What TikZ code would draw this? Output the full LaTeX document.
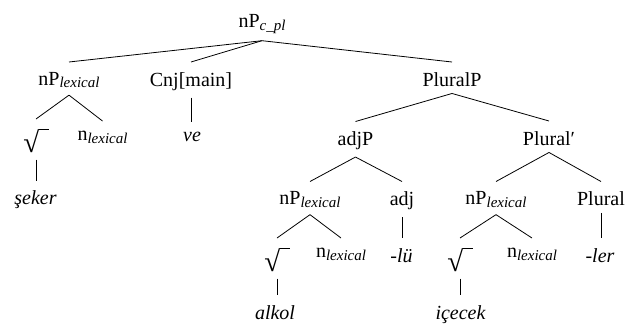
\documentclass[tikz,border=0pt]{standalone}
\usepackage{fontspec}
\setmainfont{Liberation Serif}
% italic subscript used on category labels
\newcommand{\lsub}[1]{\raisebox{-2.5bp}{\fontsize{15bp}{15bp}\selectfont\itshape #1}}
% empty root symbol: radical sign with a short bar
\newcommand{\rootsym}{{\fontsize{29bp}{29bp}\selectfont
  \setbox0\hbox{√}\copy0\kern-0.7bp\rule[\dimexpr\ht0-0.8bp\relax]{10bp}{0.8bp}}}

\begin{document}
\begin{tikzpicture}[x=1bp,y=-1bp,
  lbl/.style={inner sep=0pt, anchor=north, font=\fontsize{20bp}{24bp}\selectfont},
  word/.style={lbl, font=\fontsize{20bp}{24bp}\selectfont\itshape},
  branch/.style={line width=0.8bp, black}]
\useasboundingbox (0,0) rectangle (629,327);

% level 0
\node[lbl] (root) at (262,14.5) {nP\lsub{c\_pl}};
% level 1
\node[lbl] (npA) at (69,72) {nP\lsub{lexical}};
\node[lbl] (cnj) at (191,72) {Cnj[main]};
\node[lbl] (plp) at (452,72) {PluralP};
% level 2
\node[lbl] (rtA) at (36,129) {\rootsym};
\node[lbl] (nA) at (102.5,131) {n\lsub{lexical}};
\node[word] (ve) at (192,132) {ve};
\node[lbl] (adjp) at (355.5,131.5) {adjP};
\node[lbl] (plbar) at (549,131) {Plural\char"2032};
% level 3
\node[word] (seker) at (35.5,190.5) {şeker};
\node[lbl] (npB) at (310,191.5) {nP\lsub{lexical}};
\node[lbl] (adj) at (402,191.5) {adj};
\node[lbl] (npC) at (496,191.5) {nP\lsub{lexical}};
\node[lbl] (plural) at (601,191.5) {Plural};
% level 4
\node[lbl] (rtB) at (277,248) {\rootsym};
\node[lbl] (nB) at (341,248) {n\lsub{lexical}};
\node[word] (lu) at (401.5,248) {-lü};
\node[lbl] (rtC) at (460,248) {\rootsym};
\node[lbl] (nC) at (532,248) {n\lsub{lexical}};
\node[word] (ler) at (600,248) {-ler};
% level 5
\node[word] (alkol) at (275,305) {alkol};
\node[word] (icecek) at (460.5,305) {içecek};

% binary branches
\foreach \p/\c in {root/npA, root/cnj, root/plp,
                   npA/rtA, npA/nA, plp/adjp, plp/plbar,
                   adjp/npB, adjp/adj, plbar/npC, plbar/plural,
                   npB/rtB, npB/nB, npC/rtC, npC/nC}
  \draw[branch] ([yshift=-7bp]\p.south) -- ([yshift=10bp]\c.north);
% unary branches, kept vertical
\foreach \p/\c in {cnj/ve, rtA/seker, adj/lu, plural/ler,
                   rtB/alkol, rtC/icecek}
  \draw[branch] ([yshift=-7bp]\p.south) -- ([yshift=10bp]\p.south |- \c.north);
\end{tikzpicture}
\end{document}
